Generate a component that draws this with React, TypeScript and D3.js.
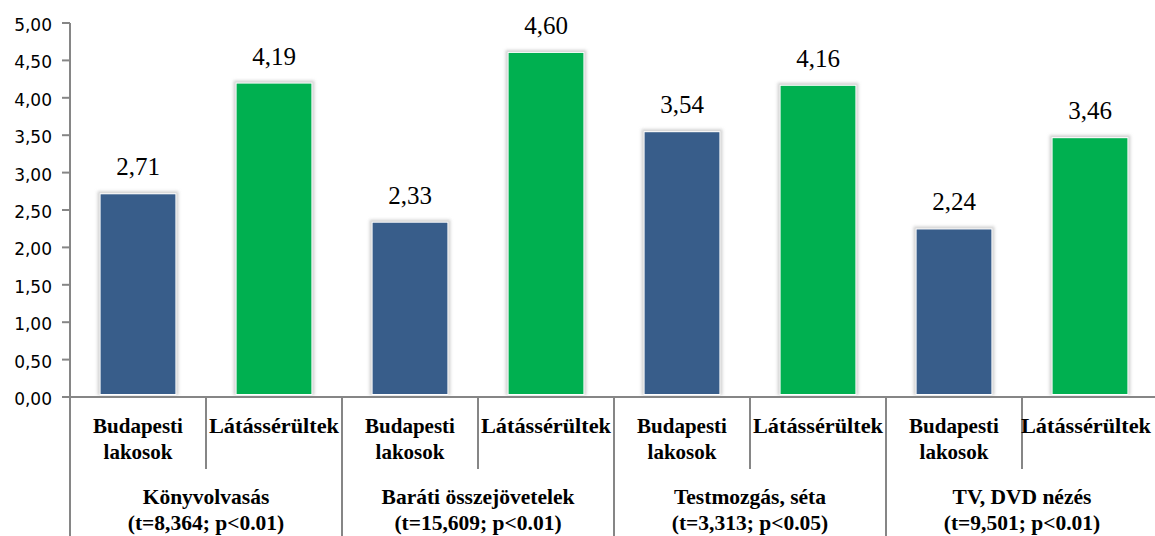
import React from "react";
import * as d3 from "d3";

const groups = ["Könyvolvasás", "Baráti összejövetelek", "Testmozgás, séta", "TV, DVD nézés"];
const groupStats = ["(t=8,364; p<0.01)", "(t=15,609; p<0.01)", "(t=3,313; p<0.05)", "(t=9,501; p<0.01)"];
const seriesNames = ["Budapesti lakosok", "Látássérültek"];
const budapestValues = [2.71, 2.33, 3.54, 2.24];
const latasserultValues = [4.19, 4.6, 4.16, 3.46];
const yTicks = [0, 0.5, 1, 1.5, 2, 2.5, 3, 3.5, 4, 4.5, 5];

const W = 1155;
const H = 536;
const left = 70;
const slotW = 136;
const top = 23;
const bottom = 397;
const colors = ["#385D8A", "#00B050"];
const LABEL = "'Liberation Serif', 'Times New Roman', 'Liberation Sans', Arial, sans-serif";
const SANS = "'DejaVu Sans', sans-serif";

export default function App() {
  const bars = groups.flatMap((g, gi) => [
    { key: `${gi}-0`, s: 0, v: budapestValues[gi] },
    { key: `${gi}-1`, s: 1, v: latasserultValues[gi] },
  ]);
  const x = d3
    .scaleBand<number>()
    .domain(d3.range(bars.length))
    .range([left, left + slotW * bars.length])
    .padding(0);
  const y = d3.scaleLinear().domain([0, 5]).range([bottom, top]);
  const bw = x.bandwidth() * 0.55;
  const fmt = (v: number) => d3.format(".2f")(v).replace(".", ",");
  const axisColor = "#868686";

  return (
    <svg width={W} height={H} style={{ position: "absolute", left: 0, top: 0, background: "#fff" }}>
      <defs>
        <filter id="halo" x="-20%" y="-20%" width="140%" height="140%">
          <feGaussianBlur stdDeviation="1.6" />
        </filter>
      </defs>
      {bars.map((b, i) => {
        const cx = (x(i) as number) + x.bandwidth() / 2;
        const yt = y(b.v);
        return (
          <g key={b.key}>
            <rect x={cx - bw / 2 - 3} y={yt - 3} width={bw + 6} height={bottom - yt + 1} fill="#d0d0d0" filter="url(#halo)" />
            <rect x={cx - bw / 2 - 1} y={yt - 1} width={bw + 2} height={bottom - yt - 1} fill="#fff" />
            <rect x={cx - bw / 2} y={yt} width={bw} height={bottom - yt - 3} fill={colors[b.s]} />
            <text x={cx} y={yt - 19} textAnchor="middle" fontFamily={LABEL} fontSize={25} fill="#000">
              {fmt(b.v)}
            </text>
          </g>
        );
      })}
      <line x1={left} x2={left} y1={top} y2={H} stroke={axisColor} strokeWidth={2} />
      {yTicks.map((t) => (
        <g key={t}>
          <line x1={left - 8} x2={left} y1={y(t)} y2={y(t)} stroke={axisColor} strokeWidth={2} />
          <text x={52} y={y(t) + 8} textAnchor="end" fontFamily={SANS} fontSize={17} fill="#000">
            {fmt(t)}
          </text>
        </g>
      ))}
      <line x1={left} x2={W} y1={bottom} y2={bottom} stroke={axisColor} strokeWidth={2} />
      {bars.map((b, i) => {
        const x0 = x(i) as number;
        const cx = x0 + x.bandwidth() / 2;
        const isGroupEdge = i % 2 === 0;
        const lx = Math.min(cx, W - 4 - 65);
        return (
          <g key={"c" + b.key}>
            {i > 0 && (
              <line x1={x0} x2={x0} y1={bottom} y2={isGroupEdge ? H : 469} stroke={axisColor} strokeWidth={2} />
            )}
            {b.s === 0 ? (
              <text textAnchor="middle" fontFamily={LABEL} fontSize={21} fontWeight="bold" fill="#000">
                <tspan x={cx} y={433}>Budapesti</tspan>
                <tspan x={cx} y={459}>lakosok</tspan>
              </text>
            ) : (
              <text x={lx} y={433} textAnchor="middle" fontFamily={LABEL} fontSize={21} fontWeight="bold" fill="#000" textLength={130} lengthAdjust="spacingAndGlyphs">
                {seriesNames[1]}
              </text>
            )}
          </g>
        );
      })}
      <line x1={left + slotW * 8} x2={left + slotW * 8} y1={bottom} y2={H} stroke={axisColor} strokeWidth={2} />
      {groups.map((g, gi) => {
        const cx = (x(gi * 2) as number) + x.bandwidth();
        return (
          <text key={g} textAnchor="middle" fontFamily={LABEL} fontSize={21.5} fontWeight="bold" fill="#000">
            <tspan x={cx} y={504}>{g}</tspan>
            <tspan x={cx} y={530}>{groupStats[gi]}</tspan>
          </text>
        );
      })}
    </svg>
  );
}
